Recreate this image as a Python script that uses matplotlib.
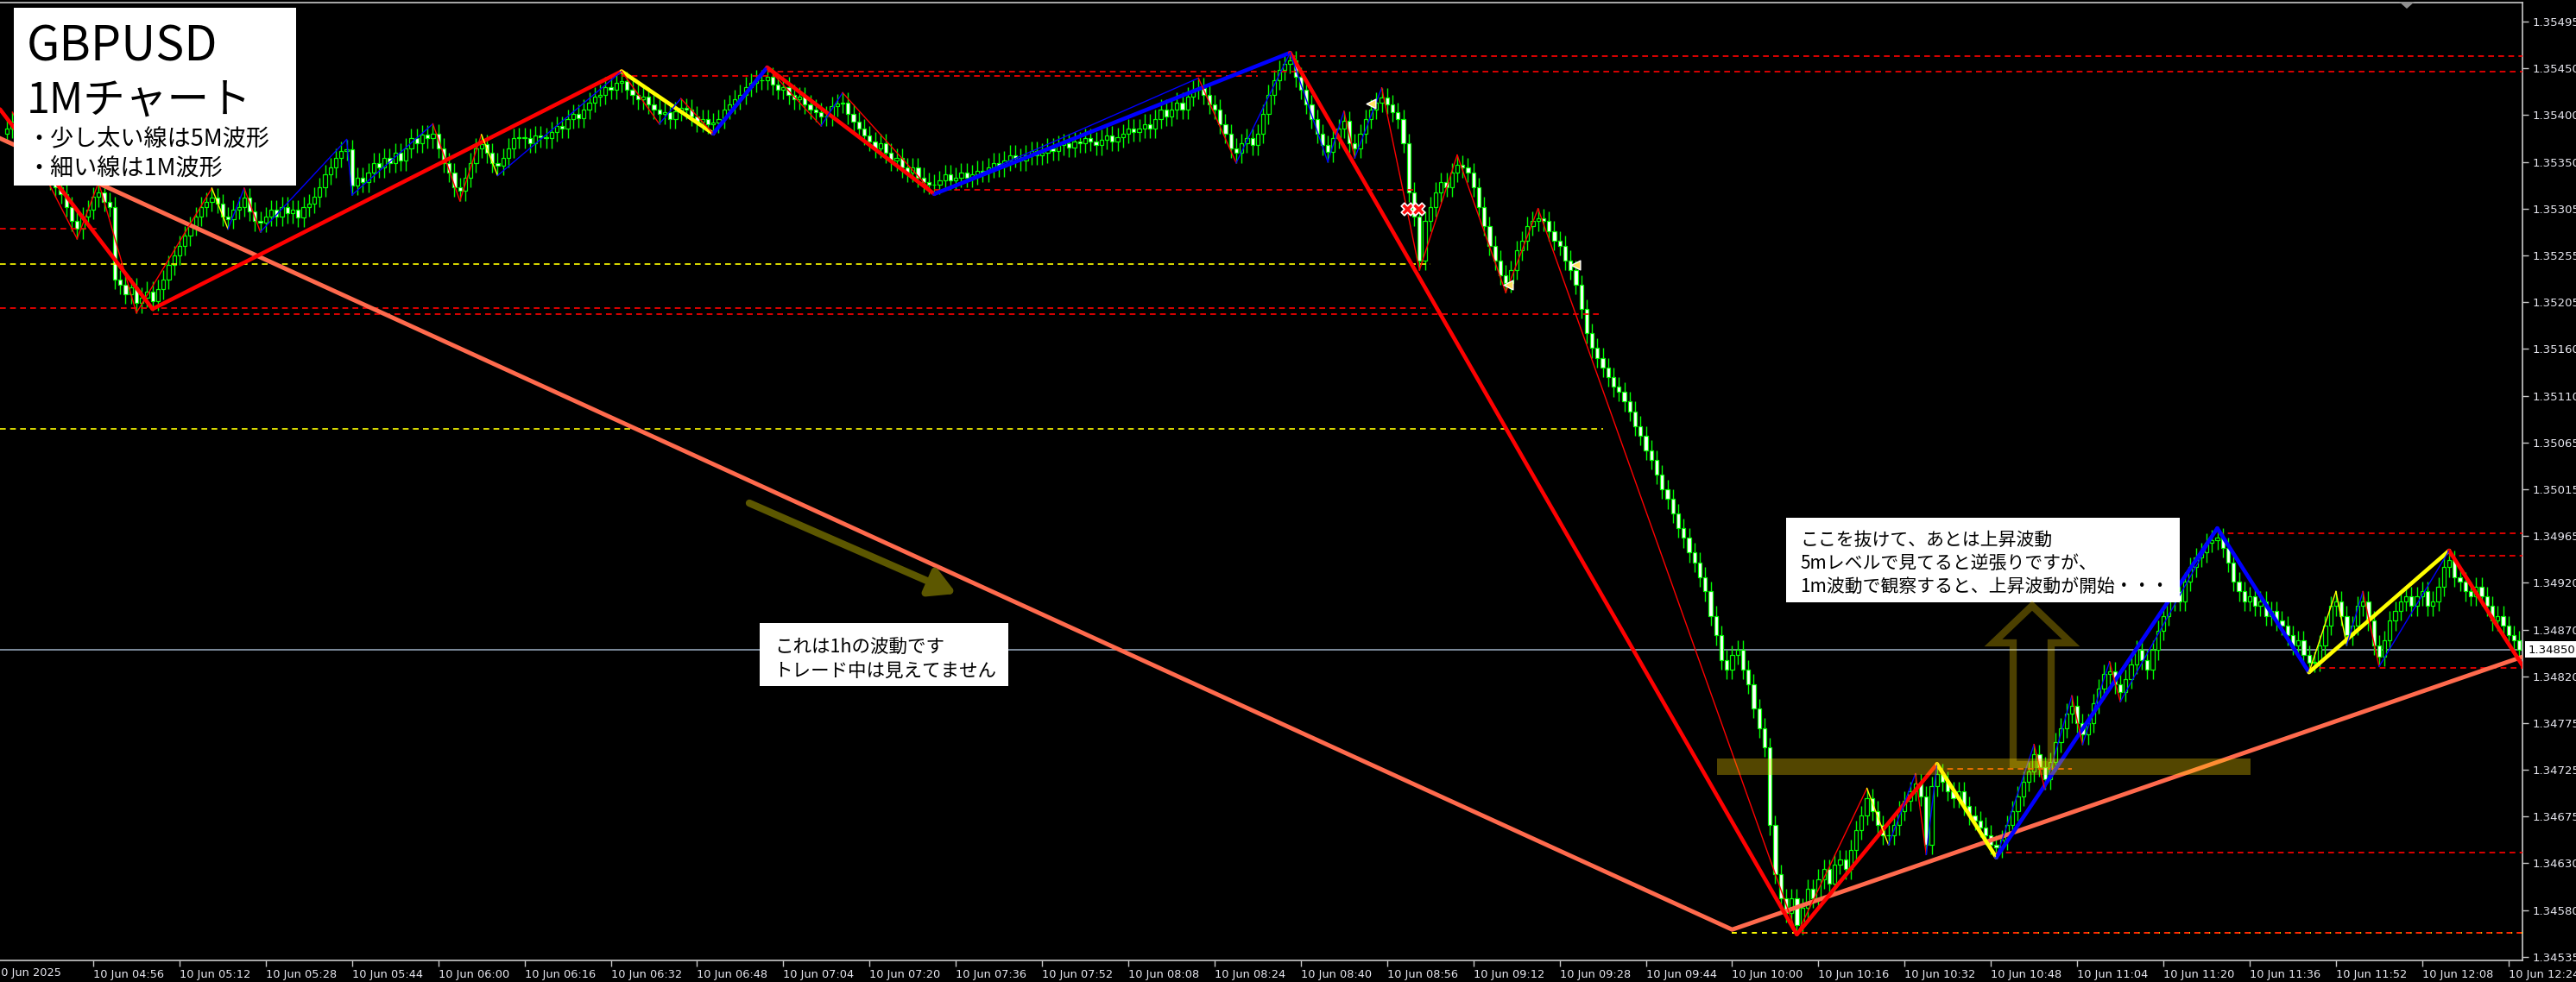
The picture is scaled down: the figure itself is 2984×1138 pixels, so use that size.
import matplotlib
matplotlib.use("Agg")
import matplotlib.pyplot as plt
import matplotlib.transforms as mtransforms
import numpy as np
from matplotlib.patches import Rectangle, Polygon

# ---------------- data (prices in pips above 1.34500) ----------------
BASE = 1.34500
PIP = 0.0001

first_open = 88.0
closes_pips = [
    88.5, 89.2, 88.0, 87.0, 86.0, 85.2, 84.5, 84.0, 83.2, 82.5,
    81.8, 80.5, 79.0, 78.2, 79.5, 80.2, 81.5, 82.0, 81.0, 80.5,
    73.0, 72.5, 71.5, 72.2, 70.6, 71.2, 71.8, 70.8, 72.0, 73.0,
    74.5, 75.5, 76.5, 77.5, 78.5, 79.5, 80.5, 81.0, 81.4, 80.8,
    79.5, 79.2, 80.2, 80.5, 81.4, 80.0, 79.0, 78.9, 79.5, 80.2,
    79.5, 80.5, 79.8, 80.2, 79.4, 80.5, 80.8, 81.5, 82.5, 83.8,
    84.5, 85.5, 86.2, 86.4, 82.7, 83.5, 83.0, 84.0, 85.0, 84.5,
    85.5, 85.0, 86.0, 85.2, 86.5, 87.5, 87.0, 87.9, 87.5, 88.0,
    86.5, 85.0, 84.0, 82.5, 82.1, 83.5, 85.0, 86.5, 86.9, 86.0,
    85.0, 84.7, 85.5, 86.5, 87.5, 87.6, 87.5, 87.0, 87.8, 87.6,
    87.5, 88.2, 88.8, 88.5, 89.5, 90.0, 89.6, 90.5, 91.2, 91.8,
    92.0, 92.8, 92.5, 93.2, 93.4, 92.5, 92.0, 91.5, 91.8, 91.0,
    90.5, 90.0, 90.2, 89.5, 90.3, 90.6, 90.5, 89.8, 89.2, 89.5,
    89.0, 89.1, 89.5, 90.5, 91.0, 91.5, 92.0, 92.8, 93.2, 93.5,
    93.5, 93.8, 93.0, 92.5, 92.8, 92.0, 91.5, 91.8, 91.0, 90.5,
    90.2, 89.8, 89.8, 90.8, 91.1, 91.2, 90.0, 89.2, 88.5, 87.8,
    87.2, 86.5, 87.0, 86.0, 85.2, 85.5, 84.5, 84.0, 84.5, 83.5,
    83.0, 82.8, 82.8, 83.2, 83.8, 83.2, 83.5, 84.0, 83.5, 83.8,
    84.2, 84.0, 84.5, 85.0, 84.6, 85.2, 85.8, 85.5, 85.2, 85.8,
    86.2, 85.8, 86.0, 86.5, 86.2, 86.8, 87.0, 86.6, 87.2, 87.0,
    87.5, 87.2, 86.8, 87.4, 87.8, 87.2, 87.6, 88.0, 88.5, 88.2,
    88.5, 89.0, 88.5, 89.5, 90.5, 89.8, 90.5, 91.2, 90.5, 91.8,
    92.5, 92.7, 92.0, 91.0, 90.5, 89.0, 88.0, 86.5, 86.0, 87.0,
    87.5, 86.8, 88.0, 90.0, 92.0, 93.5, 94.5, 95.2, 95.5, 93.8,
    92.5, 91.0, 89.5, 88.0, 86.8, 86.1, 87.5, 88.5, 89.3, 87.0,
    86.5, 88.0, 89.5, 90.5, 91.2, 91.7, 91.0, 90.2, 89.5, 87.0,
    82.0, 79.5, 75.0, 79.0, 80.5, 82.0, 83.0, 82.5, 84.0, 84.8,
    84.5, 84.0, 82.5, 80.5, 78.5, 76.5, 75.0, 73.5, 72.7, 74.0,
    76.0, 77.0, 78.5, 79.0, 79.3, 79.0, 78.0, 77.0, 76.5, 75.0,
    74.0, 72.5, 70.0, 67.5, 66.0, 65.0, 64.0, 63.0, 62.0, 61.5,
    60.5, 59.5, 58.0, 57.0, 55.5, 54.5, 53.0, 51.5, 50.5, 49.0,
    47.5, 46.5, 45.0, 44.0, 42.5, 41.0, 38.5, 36.5, 34.0, 33.0,
    34.5, 35.0, 33.0, 31.5, 29.0, 27.0, 25.0, 17.0, 12.0, 9.5,
    8.0, 9.5, 6.8, 8.5, 10.5, 9.5, 11.5, 12.5, 11.0, 13.0,
    13.5, 12.5, 14.5, 16.5, 18.0, 19.8, 18.5, 17.0, 16.0, 16.0,
    17.0, 18.5, 19.5, 20.5, 21.3, 20.0, 15.0, 21.0, 22.3, 21.5,
    20.5, 19.8, 20.5, 19.0, 18.0, 17.5, 16.8, 16.0, 15.0, 14.7,
    15.5, 17.0, 18.5, 20.0, 21.5, 22.5, 24.3, 23.0, 21.7, 23.5,
    25.5, 27.0, 28.5, 29.3, 27.5, 26.3, 27.5, 29.5, 31.0, 32.5,
    32.8, 31.5, 30.7, 32.0, 33.5, 35.0, 34.0, 33.0, 35.0, 37.0,
    38.5, 40.0, 41.0, 40.0, 42.0, 43.5, 44.5, 45.0, 46.0, 46.3,
    46.5, 45.5, 44.0, 42.0, 41.0, 40.0, 40.5, 39.5, 40.0, 38.5,
    39.0, 38.0, 37.5, 36.5, 35.5, 36.0, 34.5, 33.7, 33.8, 35.5,
    37.5, 39.5, 40.0, 38.5, 36.5, 37.5, 39.5, 40.0, 38.0, 35.5,
    34.3, 36.0, 38.0, 39.0, 40.0, 40.5, 39.5, 40.5, 41.0, 39.5,
    40.0, 41.5, 43.5, 44.2, 42.5, 42.0, 41.0, 40.5, 41.5, 40.5,
    39.5, 38.0, 38.5, 37.5, 36.5, 36.0, 35.0,
]
wick_pips = 1.0

# 1h zigzag (salmon)
zz_1h_bar = [-40, 320, 466.6]
zz_1h_val = [97.3, 6.3, 34.3]

# 5M zigzag (thick)
zz_5m_bar = [-1.3, 27, 114, 131, 141, 172, 238, 332, 358, 369, 410, 427, 453, 466.6]
zz_5m_val = [90.5, 70.0, 94.4, 88.0, 94.8, 81.8, 96.3, 5.8, 23.3, 13.7, 47.5, 32.7, 45.2, 33.4]
zz_5m_col = ['red', 'red', 'yellow', 'blue', 'red', 'blue', 'red', 'red', 'yellow',
             'blue', 'blue', 'yellow', 'red']

# 1M zigzag (thin)
zz_1m_bar = [1, 13, 17, 24, 38, 41, 44, 47, 63, 64, 79, 84, 88, 91, 114, 121, 125, 131,
             141, 151, 155, 172, 221, 228, 238, 245, 248, 250, 255, 262, 269, 278, 284,
             332, 345, 349, 354, 356, 358, 369, 376, 378, 383, 385, 390, 392, 410, 427,
             432, 434, 437, 440, 453, 466]
zz_1m_val = [90.2, 77.2, 83.0, 69.6, 82.4, 78.2, 82.4, 77.9, 87.4, 81.7, 89.0, 81.1, 87.9,
             83.7, 94.4, 89.0, 91.6, 88.0, 94.8, 88.8, 92.2, 81.8, 93.7, 85.0, 96.3, 85.1,
             90.3, 85.5, 92.7, 74.0, 85.8, 71.7, 80.3, 5.8, 20.8, 15.0, 22.3, 14.0, 23.3,
             13.7, 25.3, 20.7, 30.3, 25.3, 33.8, 29.7, 47.5, 32.7, 41.0, 35.5, 41.0, 33.3,
             45.2, 34.0]
zz_1m_col = ['red', 'red', 'red', 'red', 'yellow', 'blue', 'red', 'blue', 'blue', 'blue',
             'red', 'red', 'yellow', 'blue', 'red', 'blue', 'red', 'blue', 'red', 'blue',
             'red', 'blue', 'red', 'blue', 'blue', 'blue', 'red', 'blue', 'red', 'red',
             'red', 'red', 'red', 'red', 'yellow', 'blue', 'red', 'blue', 'yellow', 'blue',
             'red', 'blue', 'red', 'blue', 'red', 'blue', 'blue', 'yellow', 'yellow', 'blue',
             'red', 'blue', 'red']

# indicator signal marks
cross_bars = [259.7, 261.8]
cross_vals = [80.3, 80.3]
tri_bars = [253, 278.5, 291]
tri_vals = [91.1, 72.5, 74.5]

# horizontal level lines: price (pips), start bar, end bar, colour
lvl_val = [78.2, 74.6, 70.1, 69.5, 57.7, 96.0, 94.4, 93.9, 82.2, 47.0, 44.7, 33.2, 14.2, 22.8]
lvl_from = [-1.3, -1.3, -1.3, 27, -1.3, 238, 141, 114, 172, 410, 453, 427, 369, 358]
lvl_to = [17, 264, 264, 296, 296, 466.6, 466.6, 232, 261, 466.6, 466.6, 466.6, 466.6, 383]
lvl_col = ['#ff0000', '#ffff00', '#ff0000', '#ff0000', '#ffff00', '#ff0000', '#ff0000',
           '#ff0000', '#ff0000', '#ff0000', '#ff0000', '#ff0000', '#ff0000', '#ff4500']
low_level = 6.0           # 1h / 5M low level (yellow + red)
low_level_from = [320, 332]

current_price = 1.34850
band_lo, band_hi = 22.2, 23.9   # resistance zone (pips)
band_from, band_to = 317.2, 416.2

ytick_labels = ['1.34535', '1.34580', '1.34630', '1.34675', '1.34725', '1.34775', '1.34820',
                '1.34870', '1.34920', '1.34965', '1.35015', '1.35065', '1.35110', '1.35160',
                '1.35205', '1.35255', '1.35305', '1.35350', '1.35400', '1.35450', '1.35495']
xtick_times = ['04:56', '05:12', '05:28', '05:44', '06:00', '06:16', '06:32', '06:48', '07:04',
               '07:20', '07:36', '07:52', '08:08', '08:24', '08:40', '08:56', '09:12', '09:28',
               '09:44', '10:00', '10:16', '10:32', '10:48', '11:04', '11:20', '11:36', '11:52',
               '12:08', '12:24']
xtick_bars = [16 + 16 * k for k in range(len(xtick_times))]

# ---------------- derived ----------------
def px(p):
    return BASE + np.asarray(p, dtype=float) * PIP

closes = px(closes_pips)
opens = np.concatenate([[px(first_open)], closes[:-1]])
highs = np.maximum(opens, closes) + wick_pips * PIP
lows = np.minimum(opens, closes) - wick_pips * PIP
bars = np.arange(len(closes))

# ---------------- figure ----------------
W, H = 2984, 1138
fig = plt.figure(figsize=(W / 100, H / 100), dpi=100, facecolor='black')
ax = fig.add_axes([0, 1 - 1113 / H, 2922 / W, 1110 / H])
ax.set_facecolor('black')
ax.set_xlim(-1.297, 466.6)
ax.set_ylim(1.3453134, 1.3551449)

GREEN = '#00ff00'
# current price line
ax.axhline(current_price, color='#8796a8', lw=1.3, zorder=1)

# candles
up = closes >= opens
ax.vlines(bars, lows, highs, color=GREEN, lw=1.0, zorder=2)
body_lo = np.minimum(opens, closes)
body_h = np.abs(closes - opens)
ax.bar(bars[up], body_h[up], bottom=body_lo[up], width=0.68, color='black',
       edgecolor=GREEN, linewidth=0.9, zorder=2.5)
ax.bar(bars[~up], body_h[~up], bottom=body_lo[~up], width=0.68, color='white',
       edgecolor=GREEN, linewidth=0.9, zorder=2.5)

# level lines
for v, a, b, c in zip(lvl_val, lvl_from, lvl_to, lvl_col):
    ax.hlines(px(v), a, b, colors=c, linestyles=(0, (4, 3)), lw=1.2, zorder=3)
ax.hlines(px(low_level), low_level_from[0], 466.6, colors='#ffff00',
          linestyles=(0, (3, 3)), lw=1.4, zorder=3)
ax.hlines(px(low_level), low_level_from[1], 466.6, colors='#ff2000',
          linestyles=(3, (3, 3)), lw=1.4, zorder=3)

# zigzags
ax.plot(zz_1h_bar, px(zz_1h_val), color='#ff6a4d', lw=3.6, zorder=4, solid_capstyle='butt')
for k in range(len(zz_5m_col)):
    ax.plot(zz_5m_bar[k:k + 2], px(zz_5m_val[k:k + 2]), color=zz_5m_col[k], lw=3.3,
            zorder=5, solid_capstyle='round')
for k in range(len(zz_1m_col)):
    ax.plot(zz_1m_bar[k:k + 2], px(zz_1m_val[k:k + 2]), color=zz_1m_col[k], lw=1.0,
            zorder=5.5)

# signal marks
ax.scatter(cross_bars, px(cross_vals), marker='X', s=110, facecolor='#ff1010',
           edgecolor='white', linewidth=1.2, zorder=6)
ax.scatter(tri_bars, px(tri_vals), marker='<', s=60, facecolor='#ffe060',
           edgecolor='white', linewidth=1.0, zorder=6)

# resistance band
ax.add_patch(Rectangle((band_from, px(band_lo)), band_to - band_from,
                       (band_hi - band_lo) * PIP, facecolor='#ffd700', alpha=0.33,
                       edgecolor='none', zorder=6))

# axes styling
ax.spines['left'].set_visible(False)
for s in ['top', 'right', 'bottom']:
    ax.spines[s].set_color('#c8c8c8')
    ax.spines[s].set_linewidth(1.2)
ax.yaxis.tick_right()
ax.set_yticks(px(np.linspace(3.5, 99.5, 21)))
ax.set_yticklabels(ytick_labels)
ax.set_xticks(xtick_bars)
ax.set_xticklabels(['10 Jun ' + t for t in xtick_times])
shift = mtransforms.ScaledTranslation(-2 / 100, 0, fig.dpi_scale_trans)
for lab in ax.get_xticklabels():
    lab.set_horizontalalignment('left')
    lab.set_transform(lab.get_transform() + shift)
ax.tick_params(axis='y', direction='out', length=5, width=1, color='#c8c8c8',
               labelcolor='#e8e8f0', labelsize=9.5, pad=3)
ax.tick_params(axis='x', direction='out', length=5, width=1, color='#c8c8c8',
               labelcolor='#e8e8f0', labelsize=9.3, pad=2)

# ---------------- overlay (annotations in pixel space) ----------------
ov = fig.add_axes([0, 0, 1, 1], zorder=10)
ov.set_xlim(0, W)
ov.set_ylim(H, 0)
ov.axis('off')
ov.patch.set_alpha(0)
JP = ['Noto Sans CJK JP', 'DejaVu Sans']

ov.text(-7, 1127, '10 Jun 2025', color='#e8e8f0', fontsize=9.3, va='center', ha='left')

# current price tag
ov.add_patch(Rectangle((2925, 743), 59, 19, facecolor='white', edgecolor='none'))
ov.text(2929, 753, '1.34850', color='black', fontsize=9.5, va='center', ha='left')

# chart shift marker
ov.add_patch(Polygon([(2779, 2), (2797, 2), (2788, 10)], closed=True, facecolor='#909090',
                     edgecolor='none'))

# title box
ov.add_patch(Rectangle((16, 9), 327, 206, facecolor='white', edgecolor='none'))
ov.text(31, 70, 'GBPUSD', family=JP, fontsize=40, color='black', va='baseline')
ov.text(31, 131, '1Mチャート', family=JP, fontsize=35, color='black', va='baseline')
ov.text(31, 168, '・少し太い線は5M波形', family=JP, fontsize=19.5, color='black', va='baseline')
ov.text(31, 203, '・細い線は1M波形', family=JP, fontsize=19.5, color='black', va='baseline')

# note 1
ov.add_patch(Rectangle((880, 722), 288, 73, facecolor='white', edgecolor='none'))
ov.text(897, 757, 'これは1hの波動です', family=JP, fontsize=15.5, color='black', va='baseline')
ov.text(897, 785, 'トレード中は見えてません', family=JP, fontsize=15.5, color='black', va='baseline')

# note 2
ov.add_patch(Rectangle((2069, 600), 456, 98, facecolor='white', edgecolor='none'))
ov.text(2085, 632, 'ここを抜けて、あとは上昇波動', family=JP, fontsize=15, color='black', va='baseline')
ov.text(2085, 659, '5mレベルで見てると逆張りですが、', family=JP, fontsize=15, color='black', va='baseline')
ov.text(2085, 686, '1m波動で観察すると、上昇波動が開始・・・', family=JP, fontsize=15, color='black', va='baseline')

# arrows
ov.annotate('', xy=(1108, 688), xytext=(868, 583),
            arrowprops=dict(arrowstyle='-|>,head_length=0.9,head_width=0.5', lw=6,
                            color='#5c5700', shrinkA=0, shrinkB=0, mutation_scale=20))
ov.add_patch(Polygon([(2354, 702), (2399, 745), (2376, 745), (2376, 886), (2332, 886),
                      (2332, 745), (2309, 745)], closed=True, fill=False,
                     edgecolor=(1.0, 0.84, 0.0, 0.30), lw=6, joinstyle='miter'))

fig.savefig('out.png', dpi=100, facecolor='black')
